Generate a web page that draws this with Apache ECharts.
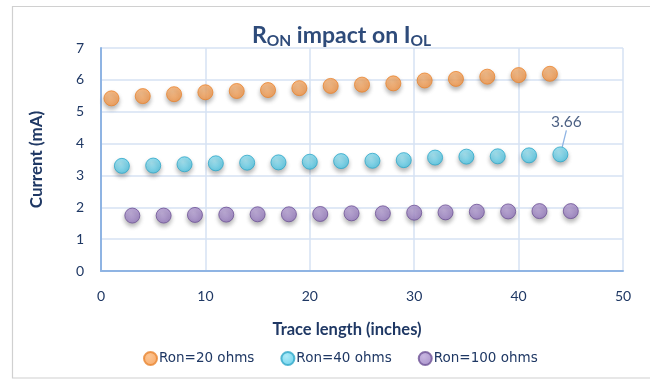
<!DOCTYPE html>
<html><head><meta charset="utf-8">
<script src="https://cdn.jsdelivr.net/npm/echarts@6/dist/echarts.min.js"></script>
<style>html,body{margin:0;padding:0;background:#fff}#c{width:650px;height:379px}</style>
</head><body><div id="c"></div>
<script>
var seriesNames = ['Ron=20 ohms', 'Ron=40 ohms', 'Ron=100 ohms'];
var x20 = [1,4,7,10,13,16,19,22,25,28,31,34,37,40,43];
var y20 = [5.42,5.49,5.55,5.61,5.65,5.68,5.74,5.81,5.85,5.89,5.98,6.03,6.10,6.15,6.19];
var x40 = [2,5,8,11,14,17,20,23,26,29,32,35,38,41,44];
var y40 = [3.30,3.31,3.35,3.38,3.40,3.41,3.43,3.45,3.46,3.48,3.56,3.59,3.60,3.63,3.66];
var x100 = [3,6,9,12,15,18,21,24,27,30,33,36,39,42,45];
var y100 = [1.74,1.74,1.76,1.77,1.78,1.78,1.79,1.81,1.81,1.83,1.84,1.86,1.87,1.88,1.88];
var xTicks = [0,10,20,30,40,50];
var yTicks = [0,1,2,3,4,5,6,7];

function pairs(xs, ys){ return xs.map(function(x,i){ return [x, ys[i]]; }); }
var txt = '#1F3864';
var FONT = 'Lato, "Open Sans", sans-serif';
var chart = echarts.init(document.getElementById('c'), null, {renderer:'canvas'});
function mk(name, xs, ys, c1, c2, border){
  return {
    name: name, type: 'scatter', symbol: 'circle', symbolSize: 15,
    data: pairs(xs, ys),
    itemStyle: {
      color: {type:'radial', x:0.4, y:0.35, r:0.7, colorStops:[{offset:0,color:c1},{offset:1,color:c2}]},
      borderColor: border, borderWidth: 1,
      shadowBlur: 4, shadowColor: 'rgba(0,0,0,0.35)', shadowOffsetY: 3
    }
  };
}
var s20 = mk(seriesNames[0], x20, y20, '#FBB779', '#F79646', '#E8842F');
var s40 = mk(seriesNames[1], x40, y40, '#9BE6F7', '#4BC8E8', '#31A8C8');
var s100 = mk(seriesNames[2], x100, y100, '#BBA5DA', '#9478BE', '#6E5296');
var lastIdx = x40.length - 1;
s40.data = s40.data.map(function(p, i){
  if (i === lastIdx) {
    return {value: p, label: {show: true, formatter: String(p[1]), position: 'top', distance: 2,
            color: '#1F3864', fontSize: 15.5, fontFamily: FONT}};
  }
  return p;
});
s40.labelLine = {show: true, lineStyle: {color: '#8FB4E3', width: 1.3}};
s40.labelLayout = function(params){
  if (params.dataIndex === lastIdx) return {dx: 6, dy: -14};
  return {};
};
var gridColor = '#D6E2F3';
var axisColor = '#8FB4E3';
chart.setOption({
  backgroundColor: '#fff',
  animation: false,
  textStyle: {fontFamily: FONT},
  graphic: [{type:'rect', shape:{x:12.5, y:6.5, width:650, height:371.5}, style:{fill:'none', stroke:'#D0D0D0', lineWidth:1.2}, silent:true}],
  title: {
    text: '{b|R}{s|ON}{b| impact on I}{s|OL}',
    left: 247, top: 19,
    textStyle: {
      rich: {
        b: {fontSize: 23, fontWeight: 'bold', color: '#2E4B7A', fontFamily: FONT, lineHeight: 25, verticalAlign: 'top'},
        s: {fontSize: 15.5, fontWeight: 'bold', color: '#2E4B7A', fontFamily: FONT, lineHeight: 16, padding: [13,0,0,0], verticalAlign: 'bottom'}
      }
    }
  },
  grid: {left: 101, right: 27, top: 48, bottom: 108, containLabel: false},
  xAxis: {
    type: 'value', min: xTicks[0], max: xTicks[xTicks.length-1], interval: 10,
    name: 'Trace length (inches)', nameLocation: 'middle', nameGap: 50,
    nameTextStyle: {fontSize: 16.5, fontWeight: 'bold', color: txt, fontFamily: FONT, padding: [0, 30, 0, 0]},
    axisLine: {show: true, lineStyle: {color: axisColor, width: 2}},
    axisTick: {show: false},
    axisLabel: {fontSize: 14, color: txt, margin: 18, fontFamily: FONT},
    splitLine: {show: true, lineStyle: {color: gridColor, width: 1.5}}
  },
  yAxis: {
    type: 'value', min: yTicks[0], max: yTicks[yTicks.length-1], interval: 1,
    name: 'Current (mA)', nameLocation: 'middle', nameGap: 56, nameRotate: 90,
    nameTextStyle: {fontSize: 17, fontWeight: 'bold', color: txt, fontFamily: FONT},
    axisLine: {show: true, lineStyle: {color: axisColor, width: 2}},
    axisTick: {show: false},
    axisLabel: {fontSize: 14, color: txt, margin: 17, fontFamily: FONT},
    splitLine: {show: true, lineStyle: {color: gridColor, width: 1.5}}
  },
  legend: {
    data: seriesNames, bottom: 8, left: 138, itemWidth: 13, itemHeight: 13, itemGap: 26,
    icon: 'circle',
    textStyle: {fontSize: 13.5, color: txt, fontFamily: '"DejaVu Sans", sans-serif', padding: [0,0,0,-3]}
  },
  series: [s20, s40, s100]
});
</script></body></html>
